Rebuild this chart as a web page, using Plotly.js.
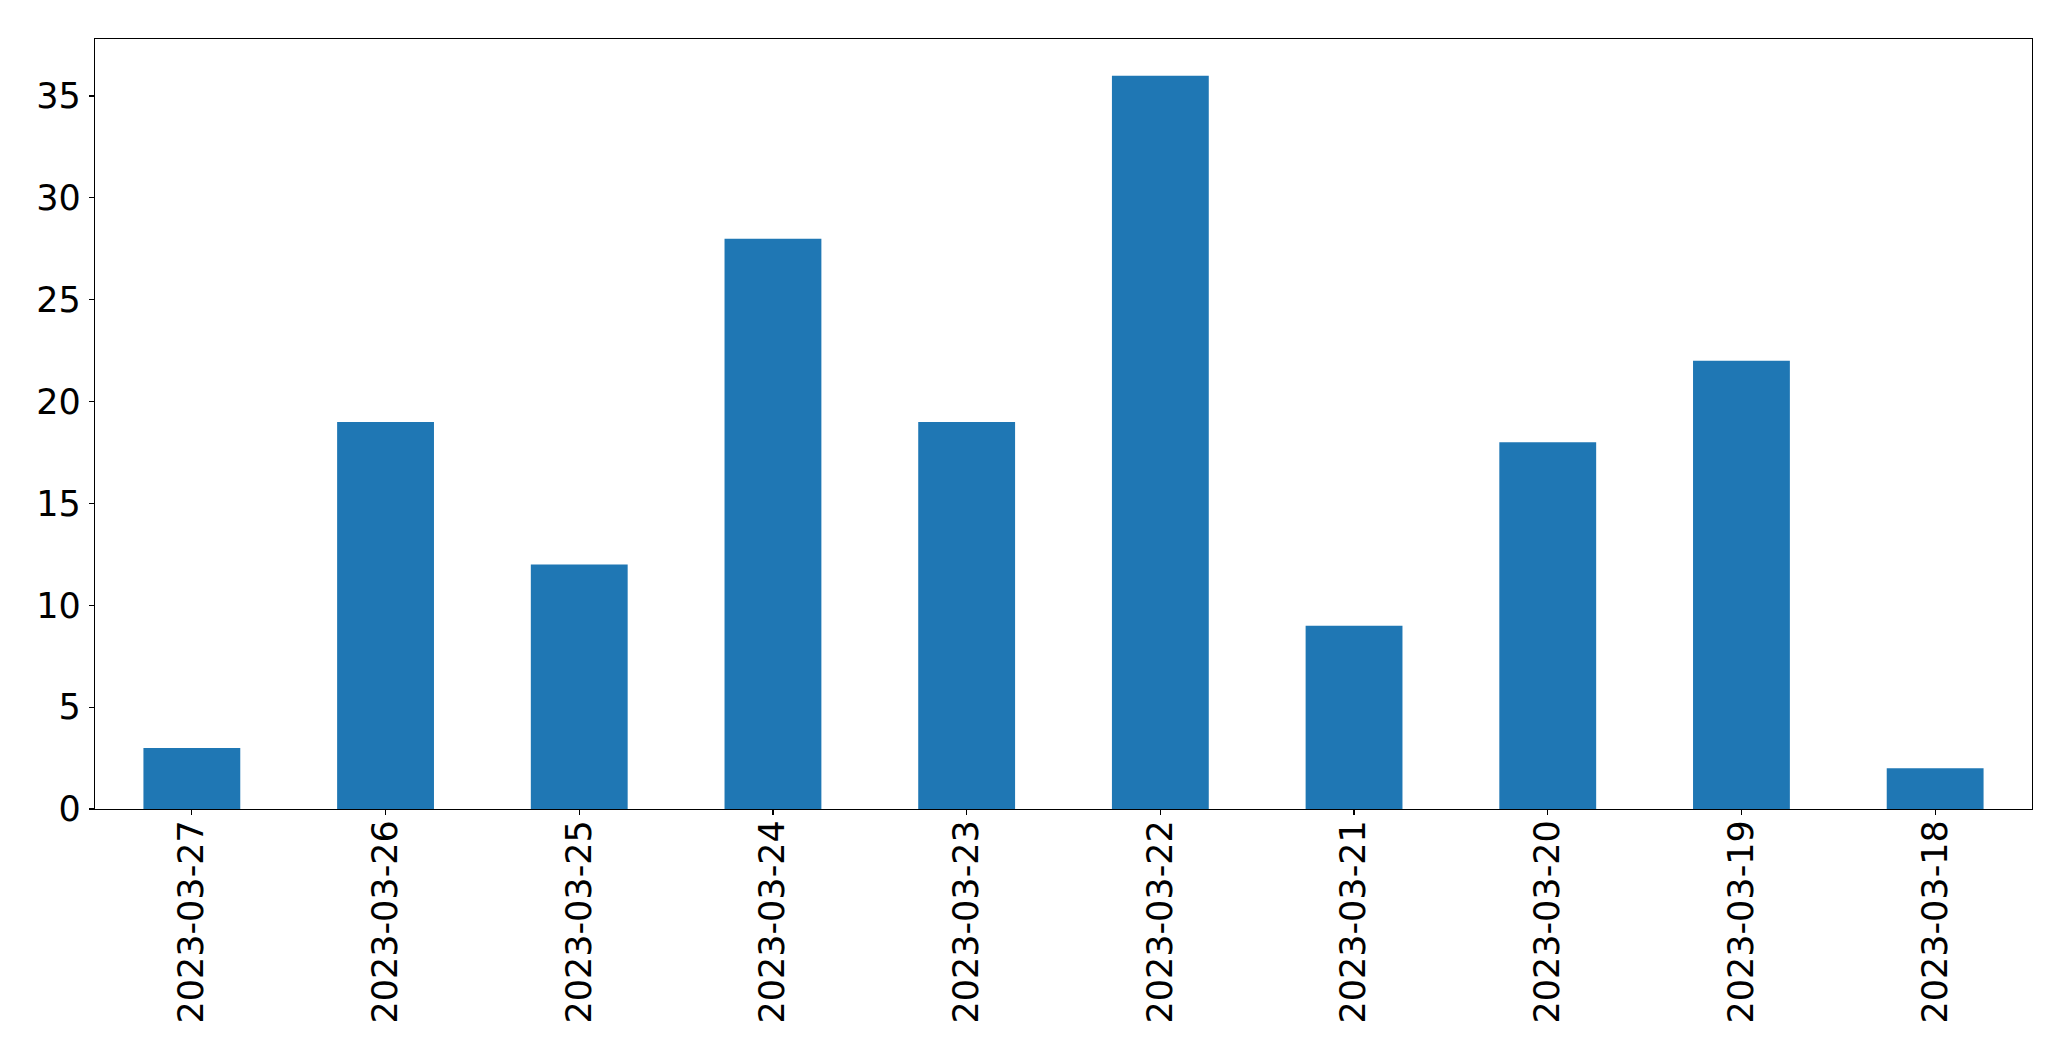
<!DOCTYPE html>
<html>
<head>
<meta charset="utf-8">
<script src="https://cdn.plot.ly/plotly-3.0.1.min.js"></script>
<style>html,body{margin:0;padding:0;background:#fff;}#chart{width:2071px;height:1061px;}</style>
</head>
<body>
<div id="chart"></div>
<script>
const dates = ["2023-03-27","2023-03-26","2023-03-25","2023-03-24","2023-03-23","2023-03-22","2023-03-21","2023-03-20","2023-03-19","2023-03-18"];
const counts = [3, 19, 12, 28, 19, 36, 9, 18, 22, 2];

const axisFont = {family: "DejaVu Sans", size: 35, color: "#000"};

Plotly.newPlot("chart", [{
  type: "bar",
  x: dates,
  y: counts,
  width: 0.5,
  marker: {color: "#1f77b4", line: {width: 0}},
  hoverinfo: "x+y"
}], {
  width: 2071,
  height: 1061,
  margin: {l: 95, r: 39, t: 39, b: 252, pad: 0},
  paper_bgcolor: "#fff",
  plot_bgcolor: "#fff",
  showlegend: false,
  font: axisFont,
  xaxis: {
    type: "category",
    range: [-0.5, 9.5],
    tickangle: -90,
    ticks: "outside",
    ticklen: 5,
    tickwidth: 1.2,
    tickcolor: "#000",
    showline: true,
    linecolor: "#000",
    linewidth: 1.2,
    mirror: true,
    showgrid: false,
    zeroline: false,
    tickfont: axisFont,
    ticklabelstandoff: -9
  },
  yaxis: {
    range: [0, 37.8],
    dtick: 5,
    tick0: 0,
    ticks: "outside",
    ticklen: 5,
    tickwidth: 1.2,
    tickcolor: "#000",
    showline: true,
    linecolor: "#000",
    linewidth: 1.2,
    mirror: true,
    showgrid: false,
    zeroline: false,
    tickfont: axisFont,
    ticklabelstandoff: 1
  }
}, {displayModeBar: false, staticPlot: true});
</script>
</body>
</html>
